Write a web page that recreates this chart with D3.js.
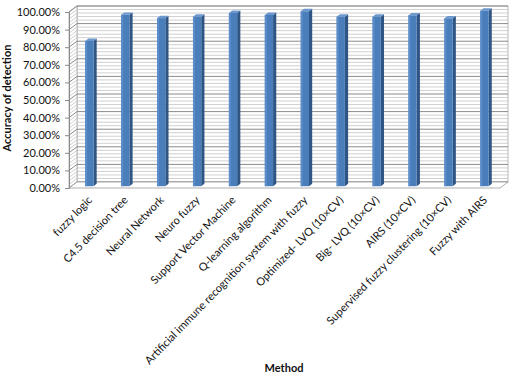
<!DOCTYPE html>
<html><head><meta charset="utf-8">
<script src="https://cdn.jsdelivr.net/npm/d3@7"></script>
<style>html,body{margin:0;padding:0;background:#fff;}svg{display:block;}</style>
</head><body>
<svg id="chart" width="511" height="375"></svg>
<script>
const categories = ["fuzzy logic","C4.5 decision tree","Neural Network","Neuro fuzzy","Support Vector Machine","Q-learning algorithm","Artificial immune recognition system with fuzzy","Optimized- LVQ (10×CV)","Big- LVQ (10×CV)","AIRS (10×CV)","Supervised fuzzy clustering (10×CV)","Fuzzy with AIRS"];
const accuracy = [0.825,0.974,0.955,0.963,0.984,0.973,0.994,0.963,0.963,0.971,0.954,0.997];
const yTicks = [0,0.1,0.2,0.3,0.4,0.5,0.6,0.7,0.8,0.9,1.0];
const minorTicks = d3.range(0,1.0001,0.02);
const yTitle = "Accuracy of detection";
const xTitle = "Method";

const svg = d3.select("#chart");
const font = "Lato, 'Open Sans', sans-serif";

// geometry
const fx0 = 69, fx1 = 500;           // front floor edge
const DX = 8, DY = -6;               // depth offset
const yFront = d3.scaleLinear().domain([0,1]).range([188,12]);
const yBack = d3.scaleLinear().domain([0,1]).range([188+DY,12+DY]);
const x = d3.scaleBand().domain(categories).range([fx0,fx1]).padding(0);

// back wall
const wall = svg.append("g");
wall.append("rect").attr("x",fx0+DX).attr("y",yBack(1)).attr("width",fx1-fx0).attr("height",yBack(0)-yBack(1))
  .attr("fill","#fff").attr("stroke","#a6a6a6").attr("stroke-width",0.8);
// side wall
wall.append("path").attr("d",`M${fx0},${yFront(0)}L${fx0},${yFront(1)}L${fx0+DX},${yBack(1)}L${fx0+DX},${yBack(0)}Z`)
  .attr("fill","#fff").attr("stroke","#a6a6a6").attr("stroke-width",0.8);
// gridlines
minorTicks.forEach(v=>{
  const major = Math.abs(Math.round(v*10)-v*10)<1e-6;
  const col = major ? "#8a8a8a" : "#c4c4c4";
  const sw = major ? 1 : 0.8;
  wall.append("line").attr("x1",fx0+DX).attr("x2",fx1+DX).attr("y1",yBack(v)).attr("y2",yBack(v)).attr("stroke",col).attr("stroke-width",sw);
  wall.append("line").attr("x1",fx0).attr("x2",fx0+DX).attr("y1",yFront(v)).attr("y2",yBack(v)).attr("stroke",col).attr("stroke-width",sw);
});
// floor
wall.append("path").attr("d",`M${fx0},${yFront(0)}L${fx0+DX},${yBack(0)}L${fx1+DX},${yBack(0)}L${fx1},${yFront(0)}Z`)
  .attr("fill","#fff").attr("stroke","#9a9a9a").attr("stroke-width",0.8);

// bars
const t0 = 0.3, t1 = 0.7;
const bw = x.bandwidth()*0.23;
const bars = svg.append("g");
categories.forEach((c,i)=>{
  const v = accuracy[i];
  const cx = x(c) + x.bandwidth()/2;
  const ox0 = DX*t0, oy0 = DY*t0, ox1 = DX*t1, oy1 = DY*t1;
  const xl = cx - bw/2 + ox0, xr = cx + bw/2 + ox0;
  const yb = yFront(0) + oy0, yt = yFront(v) + oy0;
  const ddx = ox1-ox0, ddy = oy1-oy0;
  bars.append("path").attr("d",`M${xr},${yb}L${xr},${yt}L${xr+ddx},${yt+ddy}L${xr+ddx},${yb+ddy}Z`).attr("fill","#2f5584");
  bars.append("path").attr("d",`M${xl},${yt}L${xr},${yt}L${xr+ddx},${yt+ddy}L${xl+ddx},${yt+ddy}Z`).attr("fill","#6d98cf");
  bars.append("rect").attr("x",xl).attr("y",yt).attr("width",bw).attr("height",yb-yt).attr("fill","#4a7ebb");
  bars.append("rect").attr("x",xl).attr("y",yt).attr("width",2).attr("height",yb-yt).attr("fill","#5b8dca");
});

// y axis (front)
const yAxis = d3.axisLeft(yFront).tickValues(yTicks).tickSize(4).tickPadding(5).tickFormat(d3.format(".2%"));
const ya = svg.append("g").attr("transform",`translate(${fx0},0)`).call(yAxis);
ya.select(".domain").attr("stroke","#8a8a8a");
ya.selectAll(".tick line").attr("stroke","#8a8a8a");
ya.selectAll("text").attr("font-family",font).attr("font-size","11px").attr("fill","#111");

// x labels
const xl = svg.append("g");
categories.forEach(c=>{
  const cx = x(c) + x.bandwidth()/2 + 3;
  xl.append("text").attr("transform",`translate(${cx},198) rotate(-46)`)
    .attr("text-anchor","end").attr("dy","0.35em")
    .attr("font-family",font).attr("font-size","11px").attr("fill","#111").text(c);
});

// titles
svg.append("text").attr("transform","translate(11,98) rotate(-90)").attr("text-anchor","middle")
  .attr("font-family",font).attr("font-size","11px").attr("font-weight","bold").attr("fill","#111").text(yTitle);
svg.append("text").attr("x",284).attr("y",372).attr("text-anchor","middle")
  .attr("font-family",font).attr("font-size","11px").attr("font-weight","bold").attr("fill","#111").text(xTitle);
</script>
</body></html>
